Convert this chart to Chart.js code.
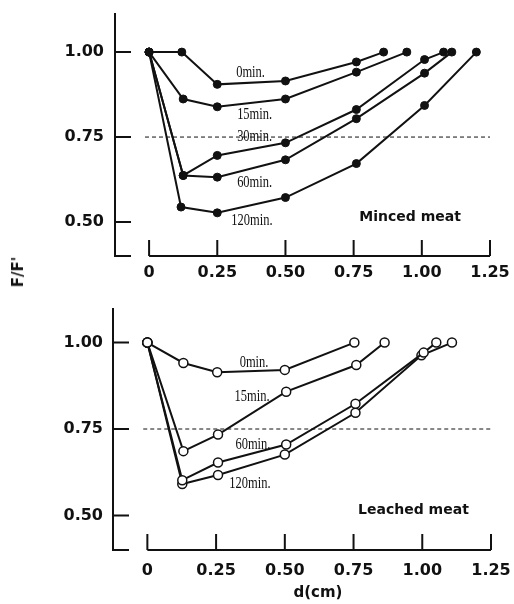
<!DOCTYPE html>
<html>
<head>
<meta charset="utf-8">
<script src="https://cdn.jsdelivr.net/npm/chart.js@4.4.1/dist/chart.umd.min.js"></script>
<style>
    body { margin: 0; background: #fff; width: 514px; height: 604px; position: relative; overflow: hidden; }
    canvas { position: absolute; left: 0; }
    #minced { top: -11px; }
    #leached { top: 284px; }
    .axis-title { position: absolute; font: bold 15px "DejaVu Sans"; color: #111; white-space: nowrap; }
    #y-title { left: 18px; top: 272px; transform: translate(-50%, -50%) rotate(-90deg); }
    #x-title { left: 318px; top: 592px; transform: translate(-50%, -50%); }
</style>
</head>
<body>
<canvas id="minced" width="540" height="311"></canvas>
<canvas id="leached" width="540" height="320"></canvas>
<div class="axis-title" id="y-title">F/F'</div>
<div class="axis-title" id="x-title">d(cm)</div>
<script>
const xTicks = [0, 0.25, 0.5, 0.75, 1.0, 1.25];
const yTicks = [0.5, 0.75, 1.0];
const refLevel = 0.75;
const seriesNames = ['0min.', '15min.', '30min.', '60min.', '120min.'];

// Minced meat (filled markers)
const minced0X = [0, 0.12, 0.25, 0.50, 0.76, 0.86];
const minced0Y = [1.00, 1.00, 0.905, 0.915, 0.971, 1.00];
const minced15X = [0, 0.125, 0.25, 0.50, 0.76, 0.945];
const minced15Y = [1.00, 0.862, 0.839, 0.862, 0.941, 1.00];
const minced30X = [0, 0.125, 0.25, 0.50, 0.76, 1.01, 1.08];
const minced30Y = [1.00, 0.637, 0.696, 0.733, 0.831, 0.978, 1.00];
const minced60X = [0, 0.125, 0.25, 0.50, 0.76, 1.01, 1.11];
const minced60Y = [1.00, 0.637, 0.632, 0.683, 0.804, 0.938, 1.00];
const minced120X = [0, 0.117, 0.25, 0.50, 0.76, 1.01, 1.20];
const minced120Y = [1.00, 0.544, 0.527, 0.572, 0.672, 0.843, 1.00];

// Leached meat (open markers), no 30 min curve
const leached0X = [0, 0.131, 0.254, 0.50, 0.753];
const leached0Y = [1.00, 0.941, 0.914, 0.921, 1.00];
const leached15X = [0, 0.131, 0.257, 0.505, 0.76, 0.863];
const leached15Y = [1.00, 0.686, 0.734, 0.858, 0.935, 1.00];
const leached60X = [0, 0.127, 0.257, 0.505, 0.757, 1.005, 1.051];
const leached60Y = [1.00, 0.602, 0.653, 0.705, 0.823, 0.971, 1.00];
const leached120X = [0, 0.127, 0.257, 0.50, 0.757, 0.997, 1.108];
const leached120Y = [1.00, 0.591, 0.617, 0.676, 0.797, 0.963, 1.00];

const ink = '#111';
const refStart = -0.015;

const makeSeries = (xs, ys, filled) => ({
    data: xs.map((v, i) => ({ x: v, y: ys[i] })),
    showLine: true,
    borderColor: ink,
    borderWidth: 2,
    pointRadius: filled ? 4 : 4.5,
    pointBorderWidth: filled ? 1 : 1.5,
    pointBorderColor: ink,
    pointBackgroundColor: filled ? ink : '#fff'
});

const refSeries = () => ({
    data: [{ x: refStart, y: refLevel }, { x: xTicks[xTicks.length - 1], y: refLevel }],
    showLine: true,
    borderColor: ink,
    borderWidth: 1,
    borderDash: [4, 3],
    pointRadius: 0
});

// axes drawn like the paper figure: inward ticks, x axis starting at 0
const paperAxes = {
    id: 'paperAxes',
    afterDatasetsDraw(chart, args, opts) {
        const { ctx, chartArea, scales: { x, y } } = chart;
        const tickLen = 16;
        ctx.save();
        ctx.strokeStyle = ink;
        ctx.lineWidth = 2;
        ctx.beginPath();
        ctx.moveTo(chartArea.left, chartArea.top);
        ctx.lineTo(chartArea.left, chartArea.bottom);
        ctx.lineTo(chartArea.left + tickLen, chartArea.bottom);
        yTicks.forEach(v => {
            const py = y.getPixelForValue(v);
            ctx.moveTo(chartArea.left, py);
            ctx.lineTo(chartArea.left + tickLen, py);
        });
        ctx.moveTo(x.getPixelForValue(xTicks[0]), chartArea.bottom);
        ctx.lineTo(x.getPixelForValue(xTicks[xTicks.length - 1]), chartArea.bottom);
        xTicks.forEach(v => {
            const px = x.getPixelForValue(v);
            ctx.moveTo(px, chartArea.bottom);
            ctx.lineTo(px, chartArea.bottom - tickLen);
        });
        ctx.stroke();

        ctx.fillStyle = ink;
        ctx.textAlign = 'center';
        ctx.textBaseline = 'middle';
        (opts.notes || []).forEach(n => {
            ctx.save();
            ctx.translate(x.getPixelForValue(n.x), y.getPixelForValue(n.y));
            ctx.scale(0.78, 1);
            ctx.font = '16px "Liberation Serif"';
            ctx.fillText(n.text, 0, 0);
            ctx.restore();
        });
        if (opts.panel) {
            ctx.font = 'bold 14px "DejaVu Sans"';
            ctx.fillText(opts.panel.text, x.getPixelForValue(opts.panel.x), y.getPixelForValue(opts.panel.y));
        }
        ctx.restore();
    }
};

const tickFont = { family: 'DejaVu Sans', weight: 'bold', size: 16 };

const makeOptions = (cfg) => ({
    responsive: false,
    animation: false,
    devicePixelRatio: 1,
    layout: { padding: { top: cfg.top, right: cfg.right, left: 0, bottom: 0 } },
    plugins: {
        legend: { display: false },
        tooltip: { enabled: false },
        paperAxes: { notes: cfg.notes, panel: cfg.panel }
    },
    scales: {
        x: {
            type: 'linear',
            min: -0.125,
            max: 1.25,
            afterBuildTicks: (s) => { s.ticks = xTicks.map(v => ({ value: v })); },
            afterFit: (s) => { s.height = cfg.xHeight; },
            grid: { display: false, drawTicks: false },
            border: { display: false },
            ticks: {
                padding: cfg.xPad,
                color: ink,
                font: tickFont,
                maxRotation: 0,
                callback: (v) => v === 0 ? '0' : v.toFixed(2)
            }
        },
        y: {
            min: 0.40,
            max: cfg.yMax,
            afterBuildTicks: (s) => { s.ticks = yTicks.map(v => ({ value: v })); },
            afterFit: (s) => { s.width = cfg.yWidth; },
            grid: { display: false, drawTicks: false },
            border: { display: false },
            ticks: {
                padding: cfg.yPad,
                color: ink,
                font: tickFont,
                callback: (v) => v.toFixed(2)
            }
        }
    }
});

const mincedNotes = [
    { text: seriesNames[0], x: 0.372, y: 0.938 },
    { text: seriesNames[1], x: 0.387, y: 0.815 },
    { text: seriesNames[2], x: 0.387, y: 0.750 },
    { text: seriesNames[3], x: 0.387, y: 0.616 },
    { text: seriesNames[4], x: 0.377, y: 0.504 }
];

const leachedNotes = [
    { text: seriesNames[0], x: 0.388, y: 0.942 },
    { text: seriesNames[1], x: 0.381, y: 0.843 },
    { text: seriesNames[3], x: 0.384, y: 0.704 },
    { text: seriesNames[4], x: 0.373, y: 0.591 }
];

new Chart(document.getElementById('minced'), {
    type: 'scatter',
    data: {
        datasets: [
            refSeries(),
            makeSeries(minced0X, minced0Y, true),
            makeSeries(minced15X, minced15Y, true),
            makeSeries(minced30X, minced30Y, true),
            makeSeries(minced60X, minced60Y, true),
            makeSeries(minced120X, minced120Y, true)
        ]
    },
    options: makeOptions({
        top: 24, right: 50, xHeight: 44, yWidth: 115, xPad: 7, yPad: 11, yMax: 1.115,
        notes: mincedNotes,
        panel: { text: 'Minced meat', x: 0.957, y: 0.515 }
    }),
    plugins: [paperAxes]
});

new Chart(document.getElementById('leached'), {
    type: 'scatter',
    data: {
        datasets: [
            refSeries(),
            makeSeries(leached0X, leached0Y, false),
            makeSeries(leached15X, leached15Y, false),
            makeSeries(leached60X, leached60Y, false),
            makeSeries(leached120X, leached120Y, false)
        ]
    },
    options: makeOptions({
        top: 24, right: 49, xHeight: 54, yWidth: 113, xPad: 11, yPad: 10, yMax: 1.10,
        notes: leachedNotes,
        panel: { text: 'Leached meat', x: 0.968, y: 0.516 }
    }),
    plugins: [paperAxes]
});
</script>
</body>
</html>
